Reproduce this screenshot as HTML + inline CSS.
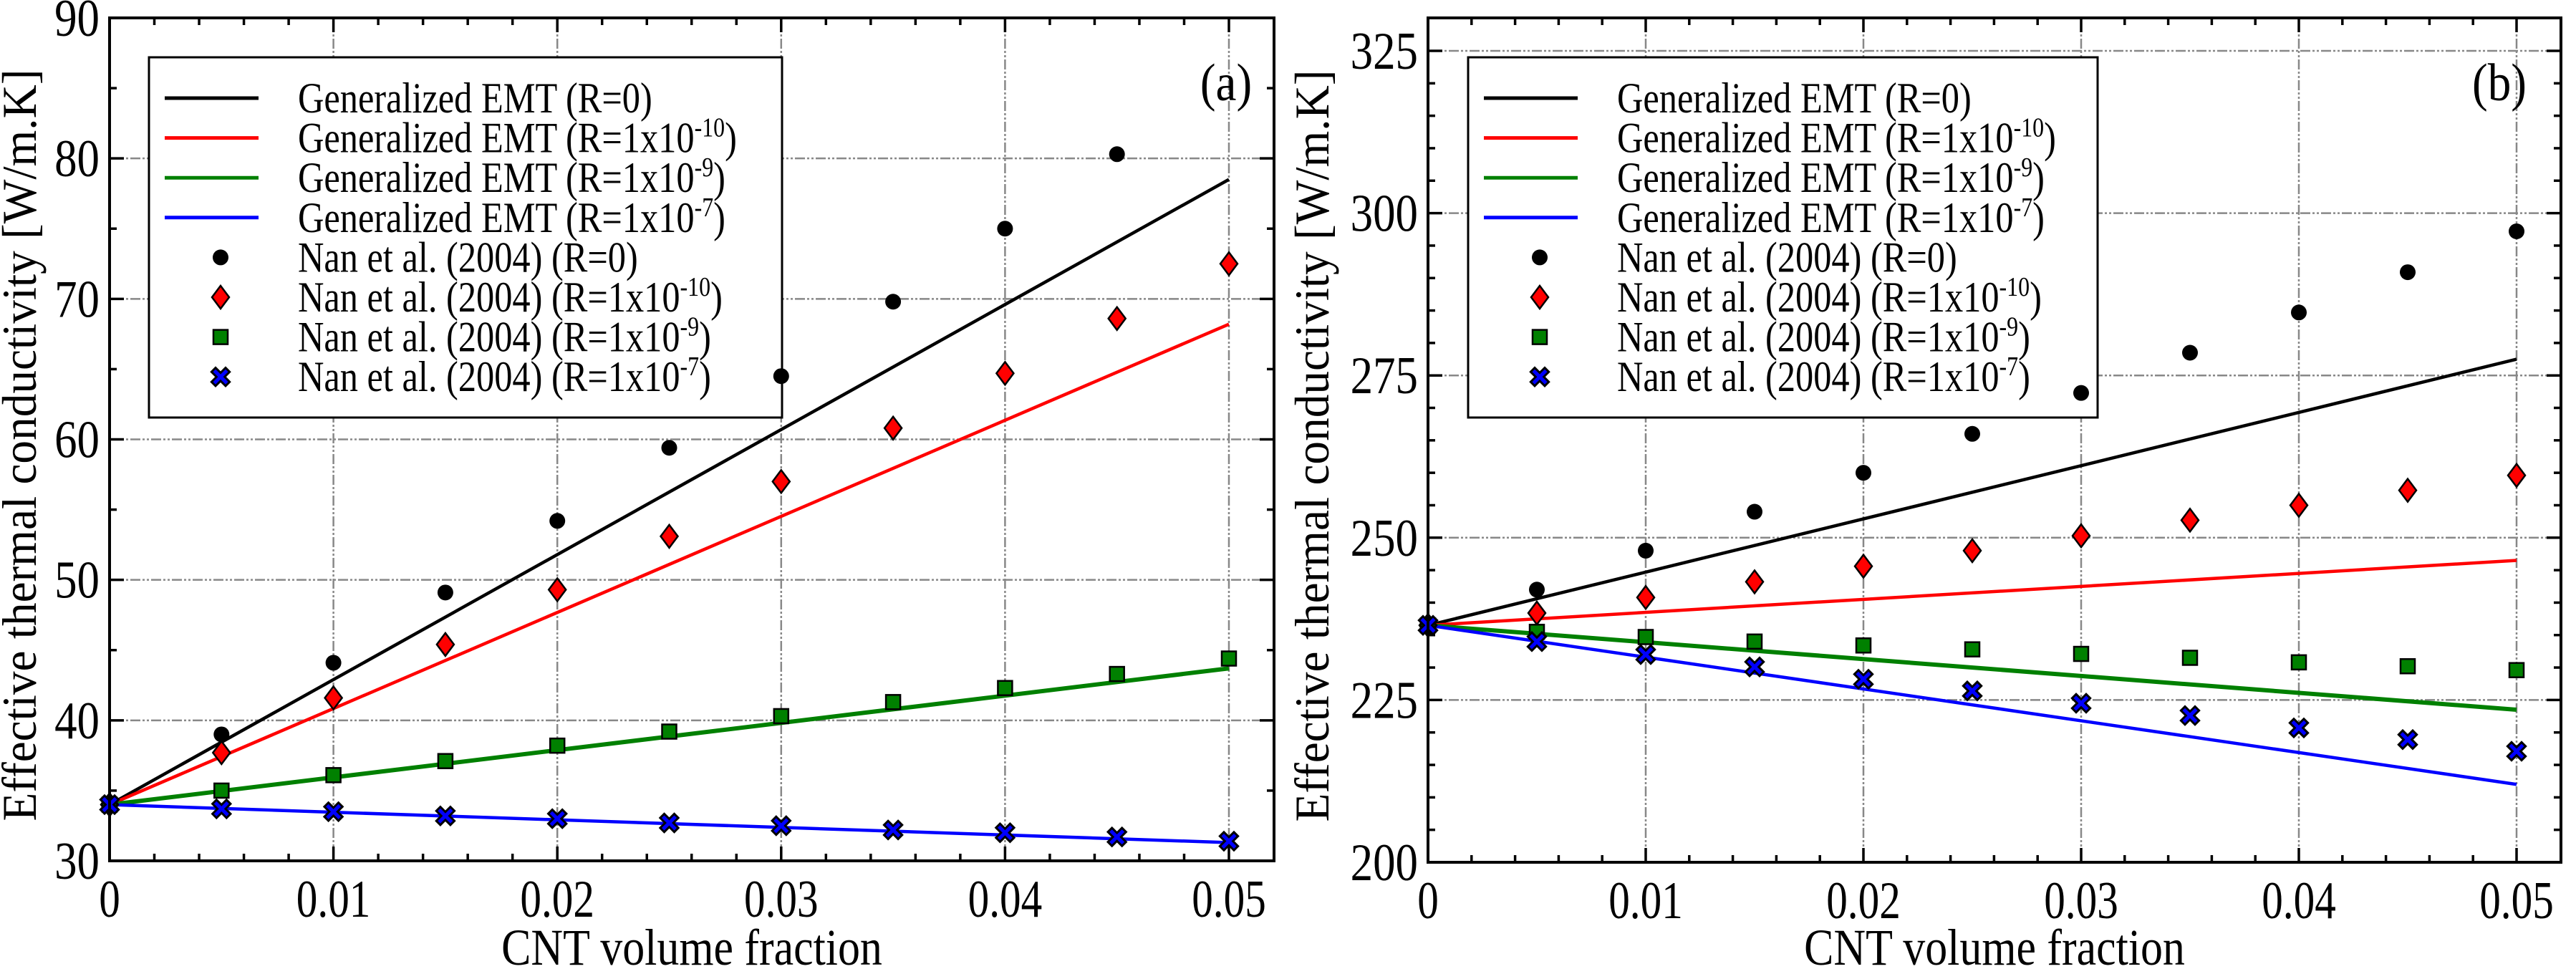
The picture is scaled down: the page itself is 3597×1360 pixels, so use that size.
<!DOCTYPE html>
<html><head><meta charset="utf-8"><style>
html,body{margin:0;padding:0;background:#fff}
svg{display:block;font-family:"Liberation Serif",serif}
</style></head><body>
<svg id="fig" width="3597" height="1360" viewBox="0 0 3597 1360" xmlns="http://www.w3.org/2000/svg"></svg>
<script>
// ---- data (panel a) ----
const xLine = [0, 0.05];
const xPts = [0,0.005,0.01,0.015,0.02,0.025,0.03,0.035,0.04,0.045,0.05];
const aLineR0 = [34, 78.5];
const aLineR10 = [34, 68.2];
const aLineR9 = [34, 43.7];
const aLineR7 = [34, 31.3];
const aPtsR0 = [34,39,44.1,49.1,54.2,59.4,64.5,69.8,75.0,80.3];
const aPtsR10 = [34,37.7,41.6,45.4,49.3,53.1,57.0,60.8,64.7,68.6,72.5];
const aPtsR9 = [34,35.0,36.1,37.1,38.2,39.2,40.3,41.3,42.3,43.3,44.4];
const aPtsR7 = [34,33.7,33.5,33.2,33.0,32.7,32.5,32.2,32.0,31.7,31.4];
// ---- data (panel b) ----
const bLineR0 = [236.5, 277.5];
const bLineR10 = [236.5, 246.5];
const bLineR9 = [236.5, 223.5];
const bLineR7 = [236.5, 212];
const bPtsR0 = [236.5,242,248,254,260,266,272.3,278.5,284.7,290.9,297.2];
const bPtsR10 = [236.5,238.4,240.8,243.2,245.6,248,250.3,252.7,255,257.3,259.6];
const bPtsR9 = [236.5,235.5,234.7,234,233.4,232.8,232.1,231.5,230.8,230.2,229.6];
const bPtsR7 = [236.5,234,232,230.1,228.2,226.4,224.5,222.6,220.7,218.9,217.1];
const xTicks = [0,0.01,0.02,0.03,0.04,0.05];
const xTickLabels = ["0","0.01","0.02","0.03","0.04","0.05"];
const aYTicks = [30,40,50,60,70,80,90];
const bYTicks = [200,225,250,275,300,325];
const legendLabels = ["Generalized EMT (R=0)","Generalized EMT (R=1x10","Generalized EMT (R=1x10","Generalized EMT (R=1x10","Nan et al. (2004) (R=0)","Nan et al. (2004) (R=1x10","Nan et al. (2004) (R=1x10","Nan et al. (2004) (R=1x10"];
const legendSups = ["","-10","-9","-7","","-10","-9","-7"];

const NS="http://www.w3.org/2000/svg";
const svg=document.getElementById('fig');
function mk(tag,attrs,parent){const e=document.createElementNS(NS,tag);for(const k in attrs)e.setAttribute(k,attrs[k]);(parent||svg).appendChild(e);return e;}
function txt(parent,x,y,size,sxs,anchor,str,rot){
  const tr=`translate(${x},${y})`+(rot?` rotate(${rot})`:'')+` scale(${sxs},1)`;
  const e=mk('text',{x:0,y:0,'font-size':size,'text-anchor':anchor,transform:tr},parent);
  e.textContent=str;return e;
}

function panel(cfg){
  const g=mk('g',{});
  
  
  const sx=v=>cfg.x0+(v-0)/(0.05)*(cfg.x05-cfg.x0);
  const sy=v=>cfg.yb+(v-cfg.ymin)/(cfg.ymax-cfg.ymin)*(cfg.yt-cfg.yb);
  const L=cfg.x0, R=cfg.right, T=25, B=cfg.yb;
  const grid=mk('g',{stroke:'#888','stroke-width':2.5,'stroke-dasharray':'14,3,3,3,3,3',fill:'none'},g);
  
  
  xTicks.forEach(t=>{if(t>0)mk('line',{x1:sx(t),x2:sx(t),y1:T,y2:B},grid);});
  cfg.yTicks.forEach(t=>{if(t>cfg.ymin)mk('line',{x1:L,x2:R,y1:sy(t),y2:sy(t)},grid);});
  const lg=mk('g',{},g);
  
  
  mk('rect',{x:cfg.lx,y:80,width:cfg.lw,height:503,fill:'#fff',stroke:'#000','stroke-width':3},lg);
  const colors=['#000','#f00','#008000','#00f'];
  for(let i=0;i<8;i++){
    const y=137+i*55.6;
    const ent=mk('g',{},lg);
    
    
    if(i<4){mk('line',{x1:cfg.lx+22,x2:cfg.lx+153,y1:y,y2:y,stroke:colors[i],'stroke-width':5},ent);}
    else marker(ent,i-4,cfg.lx+100,y);
    const t=txt(ent,cfg.lx+208,y+20,60,0.84,'start',legendLabels[i]);
    if(legendSups[i]){const s=mk('tspan',{dy:-22,'font-size':38},t);s.textContent=legendSups[i];const c=mk('tspan',{dy:22,'font-size':60},t);c.textContent=')';}
  }
  cfg.lines.forEach((arr,i)=>{
    const pts=arr.map((v,j)=>sx(xLine[j])+','+sy(v)).join(' ');
    const p=mk('polyline',{points:pts,fill:'none',stroke:colors[i],'stroke-width':i==2?6:4.5},g);
    
    
  });
  cfg.pts.forEach((arr,i)=>{
    const sg=mk('g',{},g);
    
    
    arr.forEach((v,j)=>marker(sg,i,sx(xPts[j]),sy(v)));
  });
  mk('rect',{x:L,y:T,width:R-L,height:B-T,fill:'none',stroke:'#000','stroke-width':4},g);
  const tk=mk('g',{stroke:'#000','stroke-width':3.5},g);
  for(let k=0;k<=25;k++){const x=sx(k*0.002);const len=k%5==0?20:10;
    mk('line',{x1:x,x2:x,y1:B,y2:B-len},tk);mk('line',{x1:x,x2:x,y1:T,y2:T+len},tk);}
  for(let v=cfg.ymin;v<=cfg.ymax+1e-9;v+=cfg.minor){const y=sy(v);if(y<T-1)continue;
    const major=Math.abs(((v-cfg.ymin)/cfg.major)-Math.round((v-cfg.ymin)/cfg.major))<1e-6;const len=major?20:10;
    mk('line',{x1:L,x2:L+len,y1:y,y2:y},tk);mk('line',{x1:R,x2:R-len,y1:y,y2:y},tk);}
  xTicks.forEach((t,i)=>{const e=txt(g,sx(t),B+78,74,0.8,'middle',xTickLabels[i]);
    });
  cfg.yTicks.forEach(t=>{const e=txt(g,L-14,sy(t)+25,74,0.85,'end',String(t));
    });
  const xt=txt(g,(L+R)/2,1347,72,0.86,'middle','CNT volume fraction');
  
  const yt=txt(g,cfg.ytx,(T+B)/2+8,68,0.96,'middle','Effective thermal conductivity [W/m.K]',-90);
  
  const pl=txt(g,cfg.plx,140,74,0.88,'middle',cfg.label);
  
}
function marker(parent,type,x,y){
  if(type==0) mk('circle',{cx:x,cy:y,r:11,fill:'#000'},parent);
  else if(type==1) mk('polygon',{points:`${x},${y-16} ${x+12},${y} ${x},${y+16} ${x-12},${y}`,fill:'#f00',stroke:'#000','stroke-width':2.5},parent);
  else if(type==2) mk('rect',{x:x-10,y:y-10,width:20,height:20,fill:'#008000',stroke:'#000','stroke-width':2.5},parent);
  else {const d=`M${x-7},${y-7}L${x+7},${y+7}M${x+7},${y-7}L${x-7},${y+7}`;
    mk('path',{d:d,stroke:'#000','stroke-width':11,'stroke-linecap':'square'},parent);
    mk('path',{d:d,stroke:'#00f','stroke-width':5,'stroke-linecap':'square'},parent);}
}
panel({name:'panel-a',x0:153,x05:1716,right:1779,yb:1202,yt:25,ymin:30,ymax:90,minor:5,major:10,yTicks:aYTicks,
  lx:208,lw:884,lines:[aLineR0,aLineR10,aLineR9,aLineR7],pts:[aPtsR0,aPtsR10,aPtsR9,aPtsR7],ytx:50,plx:1712,label:'(a)'});
panel({name:'panel-b',x0:1994,x05:3514,right:3576,yb:1204,yt:71,ymin:200,ymax:325,minor:5,major:25,yTicks:bYTicks,
  lx:2050,lw:879,lines:[bLineR0,bLineR10,bLineR9,bLineR7],pts:[bPtsR0,bPtsR10,bPtsR9,bPtsR7],ytx:1855,plx:3490,label:'(b)'});
</script>
</body></html>
